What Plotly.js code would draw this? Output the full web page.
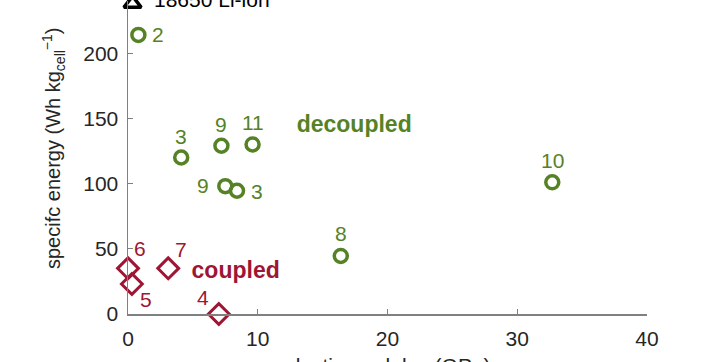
<!DOCTYPE html>
<html><head><meta charset="utf-8">
<script src="https://cdn.plot.ly/plotly-3.0.1.min.js"></script>
<style>html,body{margin:0;padding:0;background:#fff}#c{width:714px;height:362px}</style>
</head><body><div id="c"></div>
<script>
// decoupled (green circles)
const decX = [0.8, 4.1, 7.2, 9.6, 7.5, 8.4, 32.7, 16.4];
const decY = [214, 120, 129, 130, 98, 94.5, 101, 44.5];
const decLabels = ['2', '3', '9', '11', '9', '3', '10', '8'];
// coupled (red diamonds)
const coupX = [0.0, 0.3, 3.1, 7.0];
const coupY = [35, 23, 35, 0];
const coupLabels = ['6', '5', '7', '4'];
// reference cell
const refX = [0.35];
const refY = [238];
const refLabels = ['18650 Li-ion'];
// group labels
const groupText = ['decoupled', 'coupled'];
const groupX = [13.0, 4.9];
const groupY = [144, 32];
// axis ticks and titles
const xTicks = [0, 10, 20, 30, 40];
const yTicks = [0, 50, 100, 150, 200];
const xTitle = 'elastic modulus (GPa)';
const yTitle = 'specifc energy (Wh kg<sub>cell</sub><sup>−1</sup>)';

// label placement (pixel offsets from each marker) — style only
const decShift = [[20, 0], [0, 21], [0, 21], [0, 22], [-22, 1], [20, -1], [0, 22], [0, 22]];
const coupShift = [[12, 20], [14, -15], [13, 19], [-16, 17]];
const refShift = [19, 4];

const green = 'rgb(86,130,38)';
const red = 'rgb(158,22,52)';
const font = 'Liberation Sans, Arial, sans-serif';
const ink = '#262626';

const traces = [
  {x: decX, y: decY, mode: 'markers', type: 'scatter', cliponaxis: false,
   marker: {symbol: 'circle-open', size: 13, color: green, line: {width: 3.5, color: green}}},
  {x: coupX, y: coupY, mode: 'markers', type: 'scatter', cliponaxis: false,
   marker: {symbol: 'diamond-open', size: 16, color: red, line: {width: 3, color: red}}},
  {x: refX, y: refY, mode: 'markers', type: 'scatter', cliponaxis: false,
   marker: {symbol: 'triangle-up-open', size: 15, color: '#000', line: {width: 3.5, color: '#000'}}},
  {x: groupX, y: groupY, text: groupText, mode: 'text', type: 'scatter', cliponaxis: false, textposition: 'middle right',
   textfont: {family: font, size: 23, color: [green, red], weight: 'bold'}}
];

const ann = [];
decLabels.forEach((t, i) => ann.push({text: t, x: decX[i], y: decY[i], xref: 'x', yref: 'y',
  xshift: decShift[i][0], yshift: decShift[i][1], showarrow: false, xanchor: 'center', yanchor: 'middle',
  font: {family: font, size: 21, color: green}}));
coupLabels.forEach((t, i) => ann.push({text: t, x: coupX[i], y: coupY[i], xref: 'x', yref: 'y',
  xshift: coupShift[i][0], yshift: coupShift[i][1], showarrow: false, xanchor: 'center', yanchor: 'middle',
  font: {family: font, size: 21, color: red}}));
refLabels.forEach((t, i) => ann.push({text: t, x: refX[i], y: refY[i], xref: 'x', yref: 'y',
  xshift: refShift[0], yshift: refShift[1], showarrow: false, xanchor: 'left', yanchor: 'middle',
  font: {family: font, size: 21, color: '#000'}}));
ann.push({text: xTitle, xref: 'paper', yref: 'paper', x: 0.5, y: -(365 - 314) / 313, xanchor: 'center', yanchor: 'middle',
  showarrow: false, font: {family: font, size: 21, color: ink}});
ann.push({text: yTitle, xref: 'paper', yref: 'paper', x: -(128 - 53) / 519, y: (314 - 148) / 313, xanchor: 'center', yanchor: 'middle',
  textangle: -90, showarrow: false, font: {family: font, size: 20, color: ink}});

const layout = {
  width: 714, height: 362,
  margin: {l: 128, r: 67, t: 1, b: 48},
  showlegend: false,
  paper_bgcolor: '#fff', plot_bgcolor: '#fff',
  font: {family: font, size: 21, color: ink},
  xaxis: {range: [0, 40], tickvals: xTicks, showgrid: false, zeroline: false,
    showline: true, linecolor: '#808080', linewidth: 1.5, ticks: 'inside', ticklen: 5, tickcolor: '#808080',
    ticklabelstandoff: 5,
    tickfont: {family: font, size: 21, color: ink}},
  yaxis: {range: [0, 240], tickvals: yTicks, showgrid: false, zeroline: false,
    showline: true, linecolor: '#808080', linewidth: 1.5, ticks: 'inside', ticklen: 5, tickcolor: '#808080',
    ticklabelstandoff: 4,
    tickfont: {family: font, size: 21, color: ink}},
  annotations: ann
};
Plotly.newPlot('c', traces, layout, {displayModeBar: false, staticPlot: true});
</script></body></html>
